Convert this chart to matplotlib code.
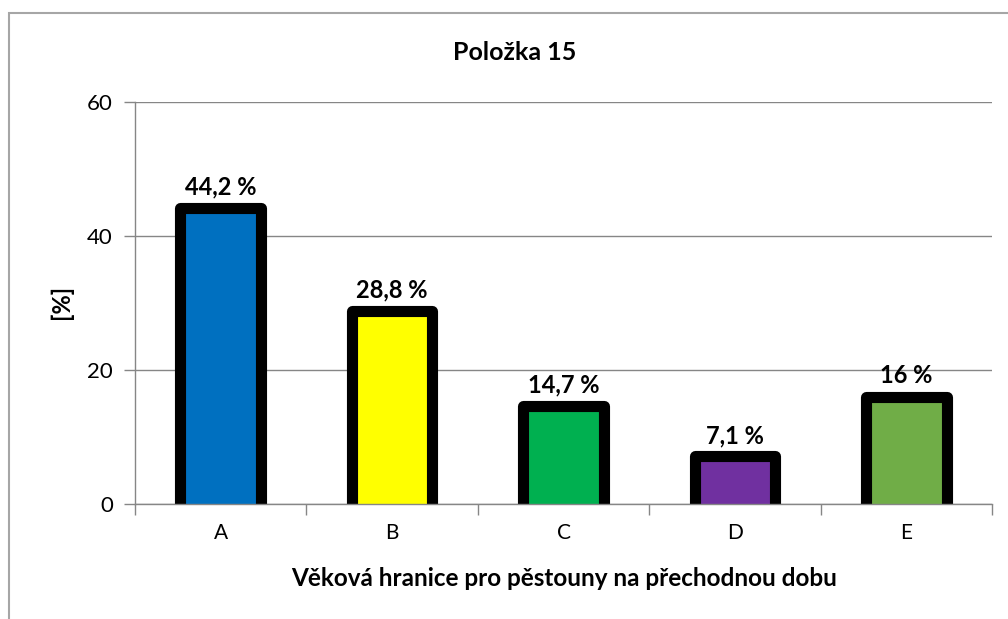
import matplotlib.pyplot as plt
from matplotlib.patches import Rectangle

plt.rcParams['font.family'] = ['Lato', 'DejaVu Sans']

# data
categories = ['A', 'B', 'C', 'D', 'E']
values = [44.2, 28.8, 14.7, 7.1, 16]
labels = ['44,2 %', '28,8 %', '14,7 %', '7,1 %', '16 %']
colors = ['#0070C0', '#FFFF00', '#00B050', '#7030A0', '#70AD47']

fig = plt.figure(figsize=(10.08, 6.19), dpi=100)
ax = fig.add_axes([135 / 1008, 1 - 504 / 619, (992 - 135) / 1008, (504 - 102) / 619])

grey = '#868686'

# ramecek grafu
fig.patches.append(Rectangle((9 / 1008, -0.1), 1.2, 1 - 13 / 619 + 0.1,
                             transform=fig.transFigure, fill=False,
                             edgecolor='#A6A6A6', linewidth=1.5))

x = list(range(len(categories)))
# spodni cast obrysu schovana pod osou
base = -3
bars = ax.bar(x, [v - base for v in values], bottom=base, width=0.47,
              color=colors, edgecolor='black', linewidth=8, zorder=3)
for b in bars:
    b.set_joinstyle('round')

for xi, v, lab in zip(x, values, labels):
    ax.text(xi, v + 1.4, lab, ha='center', va='bottom', fontsize=17,
            fontweight='bold', zorder=4)

ax.set_xlim(-0.5, 4.5)
ax.set_ylim(0, 60)
ax.set_yticks([0, 20, 40, 60])
ax.set_xticks(x)
ax.set_xticklabels(categories, fontsize=15)
ax.tick_params(axis='y', labelsize=16, length=8, color=grey, width=1, pad=8)
ax.tick_params(axis='x', length=0, pad=14)
ax.set_xticks([i - 0.5 for i in range(len(categories) + 1)], minor=True)
ax.tick_params(axis='x', which='minor', length=8, color=grey, width=1)

ax.grid(axis='y', color=grey, linewidth=1, zorder=0)
for s in ['top', 'right']:
    ax.spines[s].set_visible(False)
for s in ['left', 'bottom']:
    ax.spines[s].set_color(grey)
    ax.spines[s].set_linewidth(1)
ax.spines['bottom'].set_zorder(5)

fig.text(515 / 1008, 1 - 53 / 619, 'Položka 15', ha='center', va='center',
         fontsize=18, fontweight='bold')
fig.text(564 / 1008, 1 - 578 / 619, 'Věková hranice pro pěstouny na přechodnou dobu',
         ha='center', va='center', fontsize=17.5, fontweight='bold')
fig.text(61 / 1008, 1 - 302 / 619, '[%]', ha='center', va='center',
         fontsize=17, fontweight='bold', rotation=90)

fig.savefig('out.png', dpi=100)
